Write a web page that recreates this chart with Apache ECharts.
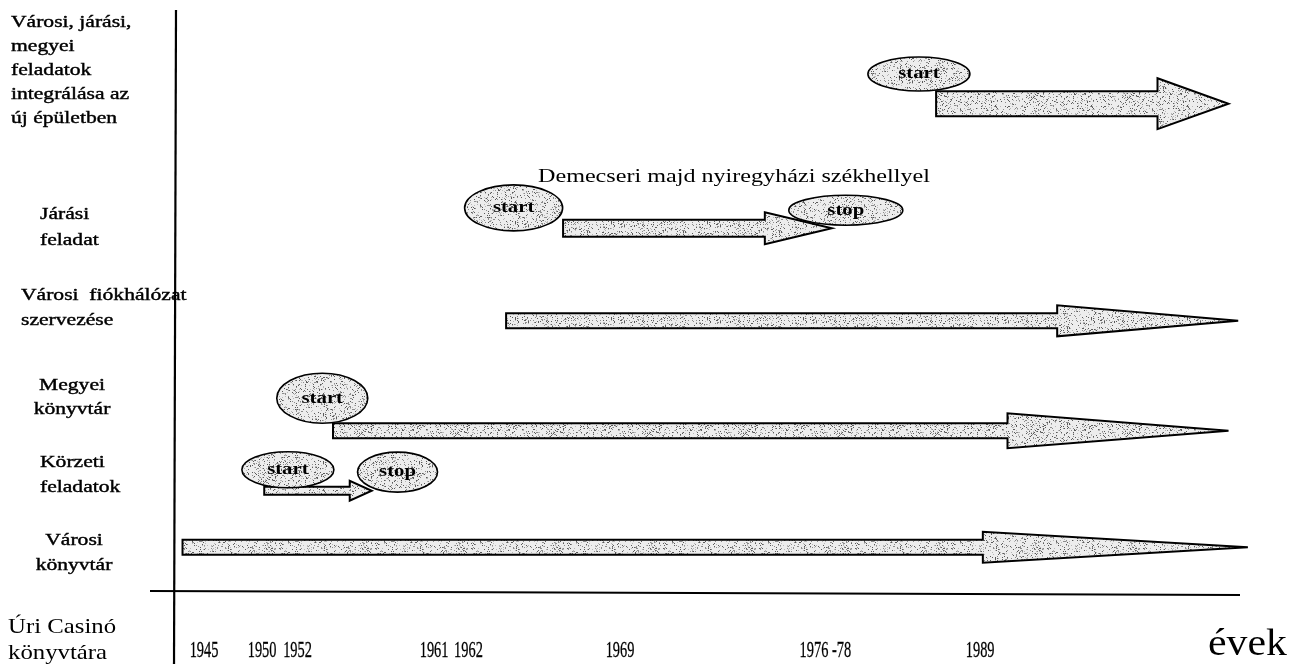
<!DOCTYPE html>
<html>
<head>
<meta charset="utf-8">
<script src="https://cdn.jsdelivr.net/npm/echarts@6/dist/echarts.min.js"></script>
<style>
  html, body { margin: 0; padding: 0; background: #fff; }
  #chart { width: 1290px; height: 664px; }
</style>
</head>
<body>
<div id="chart"></div>
<script>
// ---- data (schematic timeline units: x 0..100 along the time axis, y 0..100 up from the base line) ----
const rowLabels = [
  'Városi, járási,\nmegyei\nfeladatok\nintegrálása az\núj épületben',
  'Járási\nfeladat',
  'Városi  fiókhálózat\nszervezése',
  'Megyei\nkönyvtár',
  'Körzeti\nfeladatok',
  'Városi\nkönyvtár'
];
const baseLabel = 'Úri Casinó\nkönyvtára';
const axisName = 'évek';
const yearLabels = ['1945', '1950', '1952', '1961', '1962', '1969', '1976 -78', '1989'];
const yearPos    = [2.7, 8.1, 11.4, 24.1, 27.3, 41.4, 60.5, 74.9];

// arrows: row position, start, end (timeline units)
const arrowRow   = [83.9, 62.5, 46.6, 27.7, 17.4, 7.7];
const arrowFrom  = [70.8, 36.1, 30.8, 14.7, 8.3, 0.7];
const arrowTo    = [98.0, 61.1, 98.9, 98.0, 18.3, 99.8];

// start / stop markers
const markerText = ['start', 'start', 'stop', 'start', 'start', 'stop'];
const markerX    = [69.2, 31.5, 62.4, 13.7, 10.5, 20.7];
const markerY    = [89.0, 66.0, 65.6, 33.3, 21.0, 20.6];

const note = 'Demecseri majd nyiregyházi székhellyel';

// ---- styles (pixels) ----
const arrowStyle = [ // body height, head height, head length
  [25, 51, 71], [17, 32, 67], [15, 31, 181], [15, 35, 221], [8, 20, 22], [15, 31, 265]
];
const markerSize = [[102, 34], [98, 46], [114, 30], [91, 50], [92, 36], [80, 40]];

const FONT = '"Liberation Serif", "DejaVu Serif", serif';
const SX = 1.27; // the scanned lettering is wider than the installed serif

// stippled grey texture (fixed pattern, style only)
function makeStipple() {
  const c = document.createElement('canvas');
  c.width = 96; c.height = 48;
  const g = c.getContext('2d');
  g.fillStyle = '#ededed';
  g.fillRect(0, 0, c.width, c.height);
  let s = 12345;
  const next = () => { s = (s * 1103515245 + 12345) & 0x7fffffff; return s / 0x7fffffff; };
  for (let k = 0; k < 900; k++) {
    const x = Math.floor(next() * c.width), y = Math.floor(next() * c.height);
    const t = next();
    g.fillStyle = t < 0.35 ? '#5a5a5a' : (t < 0.7 ? '#8c8c8c' : '#b8b8b8');
    g.fillRect(x, y, 1, 1);
  }
  return c;
}
const FILL = { image: makeStipple(), repeat: 'repeat' };

const arrowData = arrowRow.map((r, i) => [arrowFrom[i], arrowTo[i], r, i]);
const markerData = markerX.map((x, i) => [x, markerY[i], i]);
const yearData = yearPos.map((p, i) => [p, 0, i]);

const chart = echarts.init(document.getElementById('chart'), null, { renderer: 'canvas' });

const labelBlocks = [
  { x: 11, top: 11, lh: 23.8, align: 'left' },
  { x: 40, top: 202, lh: 26, align: 'left' },
  { x: 21, top: 283, lh: 25, align: 'left' },
  { x: 72, top: 374, lh: 24, align: 'center' },
  { x: 40, top: 450, lh: 25, align: 'left' },
  { x: 74, top: 528, lh: 25, align: 'center' }
];

const graphics = [];
rowLabels.forEach((t, i) => {
  const b = labelBlocks[i];
  graphics.push({
    type: 'text', x: b.x, y: b.top, z: 10, scaleX: SX,
    style: { text: t, font: '17px ' + FONT, fill: '#000', stroke: '#000', lineWidth: 0.4, textAlign: b.align, textVerticalAlign: 'top', lineHeight: b.lh }
  });
});
graphics.push({
  type: 'text', x: 8, y: 614, z: 10, scaleX: 1.18,
  style: { text: baseLabel, font: '21px ' + FONT, fill: '#000', textAlign: 'left', textVerticalAlign: 'top', lineHeight: 26 }
});
graphics.push({
  type: 'text', x: 1208, y: 626, z: 10, scaleX: 1.1,
  style: { text: axisName, font: '38px ' + FONT, fill: '#000', textAlign: 'left', textVerticalAlign: 'top' }
});
graphics.push({
  type: 'text', x: 538, y: 168, z: 10, scaleX: SX,
  style: { text: note, font: '19px ' + FONT, fill: '#000', textAlign: 'left', textVerticalAlign: 'top' }
});
// axis lines
graphics.push({ type: 'line', z: 5, shape: { x1: 176, y1: 10, x2: 174, y2: 664 }, style: { stroke: '#000', lineWidth: 2.2 } });
graphics.push({ type: 'line', z: 5, shape: { x1: 150, y1: 591, x2: 1240, y2: 595 }, style: { stroke: '#000', lineWidth: 2.2 } });

const option = {
  backgroundColor: '#fff',
  animation: false,
  grid: { left: 175, right: 40, top: 10, bottom: 72, containLabel: false },
  xAxis: {
    type: 'value', min: 0, max: 100,
    axisLine: { show: false }, axisTick: { show: false }, splitLine: { show: false }, axisLabel: { show: false }
  },
  yAxis: {
    type: 'value', min: 0, max: 100,
    axisLine: { show: false }, axisTick: { show: false }, splitLine: { show: false }, axisLabel: { show: false }
  },
  graphic: graphics,
  series: [
    {
      type: 'custom', name: 'arrows', z: 2,
      data: arrowData,
      renderItem: (params, api) => {
        const i = api.value(3);
        const p0 = api.coord([api.value(0), api.value(2)]);
        const p1 = api.coord([api.value(1), api.value(2)]);
        const [bh, hh, hl] = arrowStyle[i];
        const yc = p0[1], x0 = p0[0], x1 = p1[0], xb = x1 - hl;
        return {
          type: 'polygon',
          shape: { points: [[x0, yc - bh / 2], [xb, yc - bh / 2], [xb, yc - hh / 2], [x1, yc], [xb, yc + hh / 2], [xb, yc + bh / 2], [x0, yc + bh / 2]] },
          style: { fill: FILL, stroke: '#000', lineWidth: 2, lineJoin: 'miter' }
        };
      }
    },
    {
      type: 'custom', name: 'markers', z: 3,
      data: markerData,
      renderItem: (params, api) => {
        const i = api.value(2);
        const c = api.coord([api.value(0), api.value(1)]);
        const [w, h] = markerSize[i];
        return {
          type: 'group',
          children: [
            { type: 'ellipse', shape: { cx: c[0], cy: c[1], rx: w / 2, ry: h / 2 }, style: { fill: FILL, stroke: '#000', lineWidth: 1.6 } },
            { type: 'text', x: c[0], y: c[1], scaleX: 1.22, style: { text: markerText[i], font: 'bold 17px ' + FONT, fill: '#000', textAlign: 'center', textVerticalAlign: 'middle' } }
          ]
        };
      }
    },
    {
      type: 'custom', name: 'years', z: 4, clip: false,
      data: yearData,
      renderItem: (params, api) => {
        const c = api.coord([api.value(0), api.value(1)]);
        return {
          type: 'text', x: c[0], y: c[1] + 59, scaleX: 0.6,
          style: { text: yearLabels[api.value(2)], font: '24px ' + FONT, fill: '#000', stroke: '#000', lineWidth: 0.3, textAlign: 'center', textVerticalAlign: 'middle' }
        };
      }
    }
  ]
};
chart.setOption(option);
</script>
</body>
</html>
